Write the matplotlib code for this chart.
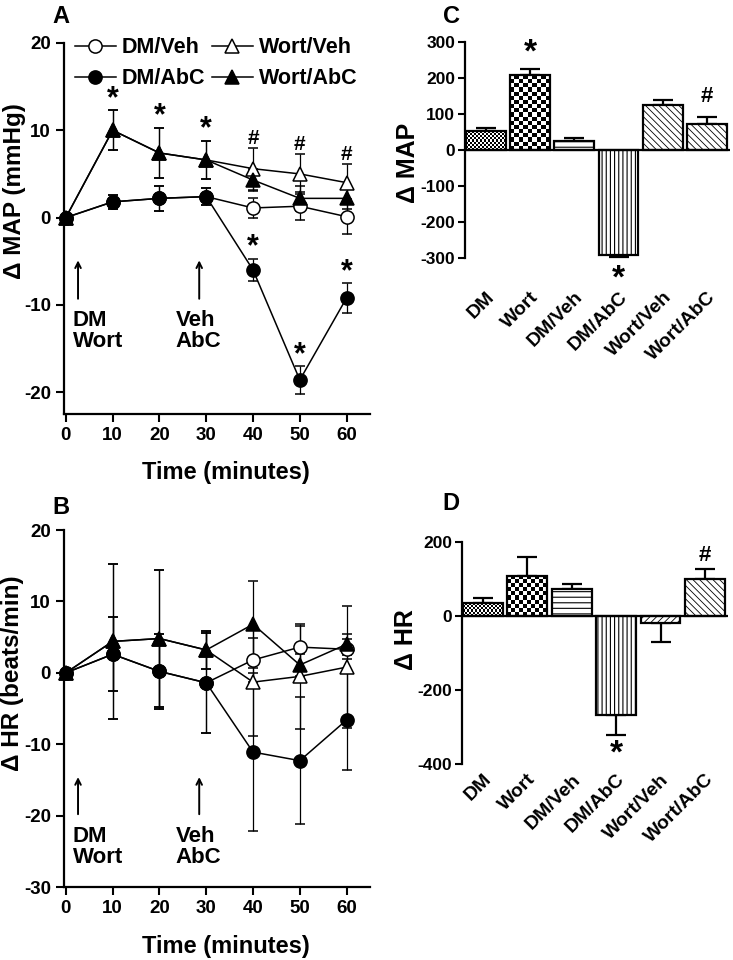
import matplotlib.pyplot as plt
import numpy as np
from matplotlib.lines import Line2D

plt.rcParams['font.family'] = ['Liberation Sans', 'DejaVu Sans']
plt.rcParams['font.weight'] = 'bold'
plt.rcParams['axes.labelweight'] = 'bold'
plt.rcParams['axes.unicode_minus'] = False
plt.rcParams['axes.linewidth'] = 1.6
plt.rcParams['hatch.linewidth'] = 0.7

TIME = [0, 10, 20, 30, 40, 50, 60]
SERIES = ['DM/Veh', 'DM/AbC', 'Wort/Veh', 'Wort/AbC']

# panel A: change in MAP (mmHg)
MAP_DM_VEH = [0, 1.8, 2.2, 2.4, 1.1, 1.3, 0.1]
MAP_DM_VEH_ERR = [0, 0.8, 1.4, 1.0, 1.1, 1.6, 2.0]
MAP_DM_ABC = [0, 1.8, 2.2, 2.4, -6.0, -18.6, -9.2]
MAP_DM_ABC_ERR = [0, 0.8, 1.4, 1.0, 1.3, 1.6, 1.7]
MAP_WORT_VEH = [0, 10.0, 7.4, 6.6, 5.6, 5.0, 4.0]
MAP_WORT_VEH_ERR = [0, 2.3, 2.9, 2.2, 2.4, 2.3, 2.1]
MAP_WORT_ABC = [0, 10.0, 7.4, 6.6, 4.3, 2.2, 2.2]
MAP_WORT_ABC_ERR = [0, 2.3, 2.9, 2.2, 1.3, 1.4, 1.2]

# panel B: change in HR (beats/min)
HR_DM_VEH = [0, 2.6, 0.2, -1.4, 1.8, 3.6, 3.3]
HR_DM_VEH_ERR = [0, 5.2, 5.3, 7.0, 3.1, 2.9, 1.4]
HR_DM_ABC = [0, 2.6, 0.2, -1.4, -11.1, -12.3, -6.6]
HR_DM_ABC_ERR = [0, 5.2, 5.3, 7.0, 11.1, 8.9, 7.0]
HR_WORT_VEH = [0, 4.4, 4.8, 3.2, -1.3, -0.5, 0.8]
HR_WORT_VEH_ERR = [0, 10.9, 9.6, 2.7, 7.5, 7.3, 8.5]
HR_WORT_ABC = [0, 4.4, 4.8, 3.2, 6.8, 1.1, 4.0]
HR_WORT_ABC_ERR = [0, 10.9, 9.6, 2.7, 6.1, 1.5, 1.5]

# significance marks for panel A: (series, time index, symbol)
MAP_MARKS = [('Wort/AbC', 1, '*'), ('Wort/AbC', 2, '*'), ('Wort/AbC', 3, '*'),
             ('Wort/Veh', 4, '#'), ('Wort/Veh', 5, '#'), ('Wort/Veh', 6, '#'),
             ('DM/AbC', 4, '*'), ('DM/AbC', 5, '*'), ('DM/AbC', 6, '*')]

# panels C and D: area under curve
GROUPS = ['DM', 'Wort', 'DM/Veh', 'DM/AbC', 'Wort/Veh', 'Wort/AbC']
AUC_MAP = [52, 208, 24, -293, 126, 73]
AUC_MAP_ERR = [9, 18, 10, 4, 14, 19]
AUC_HR = [34, 108, 71, -267, -20, 100]
AUC_HR_ERR = [15, 50, 14, 55, 52, 26]
AUC_MAP_MARKS = {'Wort': '*', 'DM/AbC': '*', 'Wort/AbC': '#'}
AUC_HR_MARKS = {'DM/AbC': '*', 'Wort/AbC': '#'}

STYLE = {
    'DM/Veh': dict(marker='o', mfc='white', ms=9.5),
    'DM/AbC': dict(marker='o', mfc='black', ms=9.5),
    'Wort/Veh': dict(marker='^', mfc='white', ms=10.5),
    'Wort/AbC': dict(marker='^', mfc='black', ms=10.5),
}
# numbers -> checkerboard texture (cell size in px) instead of a hatch
HATCH_C = [2.0, 4.2, '---', '||||', '\\\\\\\\\\', '\\\\\\\\\\']
HATCH_D = [2.0, 4.2, '---', '||||', '/////', '\\\\\\\\\\']
HATCH_LW = [0.5, 2.0, 0.8, 0.8, 0.6, 0.6]


def bold_ticks(ax):
    for lab in ax.get_xticklabels() + ax.get_yticklabels():
        lab.set_fontweight('bold')


def line_panel(ax, data, ylim, yticks):
    for name in ['DM/Veh', 'Wort/Veh', 'DM/AbC', 'Wort/AbC']:
        vals, errs = data[name]
        ax.errorbar(TIME, vals, yerr=errs, color='black', lw=1.1, elinewidth=0.9,
                    capsize=3.5, capthick=0.9, mec='black', mew=1.1,
                    clip_on=False, zorder=3, **STYLE[name])
    ax.set_xlim(-0.4, 65)
    ax.set_ylim(*ylim)
    ax.set_xticks(TIME)
    ax.set_yticks(yticks)
    for side in ['top', 'right']:
        ax.spines[side].set_visible(False)
    ax.tick_params(labelsize=13.5, width=1.5, length=6, direction='out')
    bold_ticks(ax)
    ax.set_xlabel('Time (minutes)', fontsize=17)
    ax.xaxis.set_label_coords(0.53, -0.128)


def events(ax, y_arrow, y_text):
    for x_arrow, x_text, txt in [(2.6, 1.5, 'DM\nWort'), (28.5, 23.5, 'Veh\nAbC')]:
        ax.annotate('', xy=(x_arrow, y_arrow[0]), xytext=(x_arrow, y_arrow[1]),
                    arrowprops=dict(arrowstyle='->', lw=1.4, color='black',
                                    shrinkA=0, shrinkB=0))
        ax.text(x_text, y_text, txt, fontsize=16, ha='left', va='top',
                linespacing=1.0)


def checker(ax, bar, cell):
    # black/white squares clipped to the bar outline
    bb = bar.get_window_extent()
    nx = max(1, int(round(bb.width / cell)))
    ny = max(1, int(round(bb.height / cell)))
    tex = np.add.outer(np.arange(ny), np.arange(nx)) % 2
    x0, w = bar.get_x(), bar.get_width()
    y0, h = bar.get_y(), bar.get_height()
    im = ax.imshow(tex, cmap='gray_r', vmin=0, vmax=1, interpolation='nearest',
                   extent=(x0, x0 + w, min(y0, y0 + h), max(y0, y0 + h)),
                   aspect='auto', zorder=1.5)
    im.set_clip_path(bar)


def bar_panel(ax, vals, errs, hatches, marks, ylim, yticks, ylabel, label_pad,
              up_off, down_off):
    x = np.arange(len(GROUPS))
    vals = np.array(vals, dtype=float)
    errs = np.array(errs, dtype=float)
    ax.set_xlim(-0.47, 5.52)
    ax.set_ylim(*ylim)
    textured = []
    for i in range(len(GROUPS)):
        h = hatches[i]
        if isinstance(h, str):
            with plt.rc_context({'hatch.linewidth': HATCH_LW[i]}):
                b = ax.bar(x[i], vals[i], width=0.9, color='white', edgecolor='black',
                           linewidth=1.6, hatch=h, zorder=2)
            for p in b:
                if hasattr(p, 'set_hatch_linewidth'):
                    p.set_hatch_linewidth(HATCH_LW[i])
        else:
            b = ax.bar(x[i], vals[i], width=0.9, facecolor='none', edgecolor='black',
                       linewidth=1.6, zorder=2)
            textured.append((b[0], h))
    for p, cell in textured:
        checker(ax, p, cell)
    lower = np.where(vals < 0, errs, 0)
    upper = np.where(vals >= 0, errs, 0)
    ax.errorbar(x, vals, yerr=[lower, upper], fmt='none', ecolor='black',
                elinewidth=1.6, capsize=7, capthick=1.6, zorder=1)
    for name, sym in marks.items():
        i = GROUPS.index(name)
        if vals[i] >= 0:
            y, off = vals[i] + errs[i], up_off[sym]
        else:
            y, off = vals[i] - errs[i], -down_off
        ax.annotate(sym, xy=(x[i], y), xytext=(0, off), textcoords='offset points',
                    ha='center', va='center', annotation_clip=False,
                    fontsize=24 if sym == '*' else 16)
    ax.axhline(0, color='black', lw=1.6, zorder=4)
    ax.set_xlim(-0.47, 5.52)
    ax.set_ylim(*ylim)
    ax.set_yticks(yticks)
    for side in ['top', 'right', 'bottom']:
        ax.spines[side].set_visible(False)
    ax.set_xticks(x, GROUPS, rotation=45, ha='right', rotation_mode='anchor')
    ax.tick_params(axis='x', length=0, pad=label_pad, labelsize=14)
    ax.tick_params(axis='y', labelsize=12.5, width=1.5, length=5, pad=2)
    bold_ticks(ax)
    ax.set_ylabel(ylabel, fontsize=18)


fig = plt.figure(figsize=(7.33, 9.6), dpi=100)

# A
axA = fig.add_axes([0.0873, 0.56875, 0.4175, 0.3865])
map_data = {'DM/Veh': (MAP_DM_VEH, MAP_DM_VEH_ERR), 'DM/AbC': (MAP_DM_ABC, MAP_DM_ABC_ERR),
            'Wort/Veh': (MAP_WORT_VEH, MAP_WORT_VEH_ERR),
            'Wort/AbC': (MAP_WORT_ABC, MAP_WORT_ABC_ERR)}
line_panel(axA, map_data, (-22.5, 20), [-20, -10, 0, 10, 20])
axA.set_ylabel('\u0394 MAP (mmHg)', fontsize=17.5)
axA.yaxis.set_label_coords(-0.125, 0.6)
events(axA, (-4.9, -9.3), -10.6)
for name, i, sym in MAP_MARKS:
    vals, errs = map_data[name]
    axA.annotate(sym, xy=(TIME[i], vals[i] + errs[i]), xytext=(0, 8 if sym == '*' else 7),
                 textcoords='offset points', ha='center', va='center',
                 fontsize=22 if sym == '*' else 15)
handles = [Line2D([], [], color='black', lw=1.1, mec='black', mew=1.1, **STYLE[n])
           for n in SERIES]
axA.legend(handles, SERIES, ncol=2, loc='upper left', bbox_to_anchor=(0.035, 1.015),
           frameon=False, fontsize=15.5, handlelength=1.9, handletextpad=0.3,
           columnspacing=0.3, borderpad=0, borderaxespad=0, labelspacing=0.45)

# B
axB = fig.add_axes([0.0873, 0.0760, 0.4175, 0.3719])
line_panel(axB, {'DM/Veh': (HR_DM_VEH, HR_DM_VEH_ERR),
                 'DM/AbC': (HR_DM_ABC, HR_DM_ABC_ERR),
                 'Wort/Veh': (HR_WORT_VEH, HR_WORT_VEH_ERR),
                 'Wort/AbC': (HR_WORT_ABC, HR_WORT_ABC_ERR)},
           (-30, 20), [-30, -20, -10, 0, 10, 20])
axB.set_ylabel('\u0394 HR (beats/min)', fontsize=17.5)
axB.yaxis.set_label_coords(-0.13, 0.6)
axB.xaxis.set_label_coords(0.53, -0.135)
events(axB, (-14.6, -19.8), -21.4)

# C
axC = fig.add_axes([0.6344, 0.73125, 0.3615, 0.225])
bar_panel(axC, AUC_MAP, AUC_MAP_ERR, HATCH_C, AUC_MAP_MARKS, (-300, 300),
          [-300, -200, -100, 0, 100, 200, 300], '\u0394 MAP', 22,
          {'*': 11, '#': 15}, 16)
axC.yaxis.set_label_coords(-0.17, 0.44)

# D
axD = fig.add_axes([0.6303, 0.2042, 0.3629, 0.2316])
bar_panel(axD, AUC_HR, AUC_HR_ERR, HATCH_D, AUC_HR_MARKS, (-400, 200),
          [-400, -200, 0, 200], '\u0394 HR', 5,
          {'*': 15, '#': 10}, 14)
axD.yaxis.set_label_coords(-0.165, 0.56)

for letter, x, y in [('A', 0.071, 0.995), ('B', 0.071, 0.483),
                     ('C', 0.604, 0.995), ('D', 0.604, 0.488)]:
    fig.text(x, y, letter, fontsize=17, fontweight='bold', ha='left', va='top')

fig.savefig('out.png', dpi=100)
